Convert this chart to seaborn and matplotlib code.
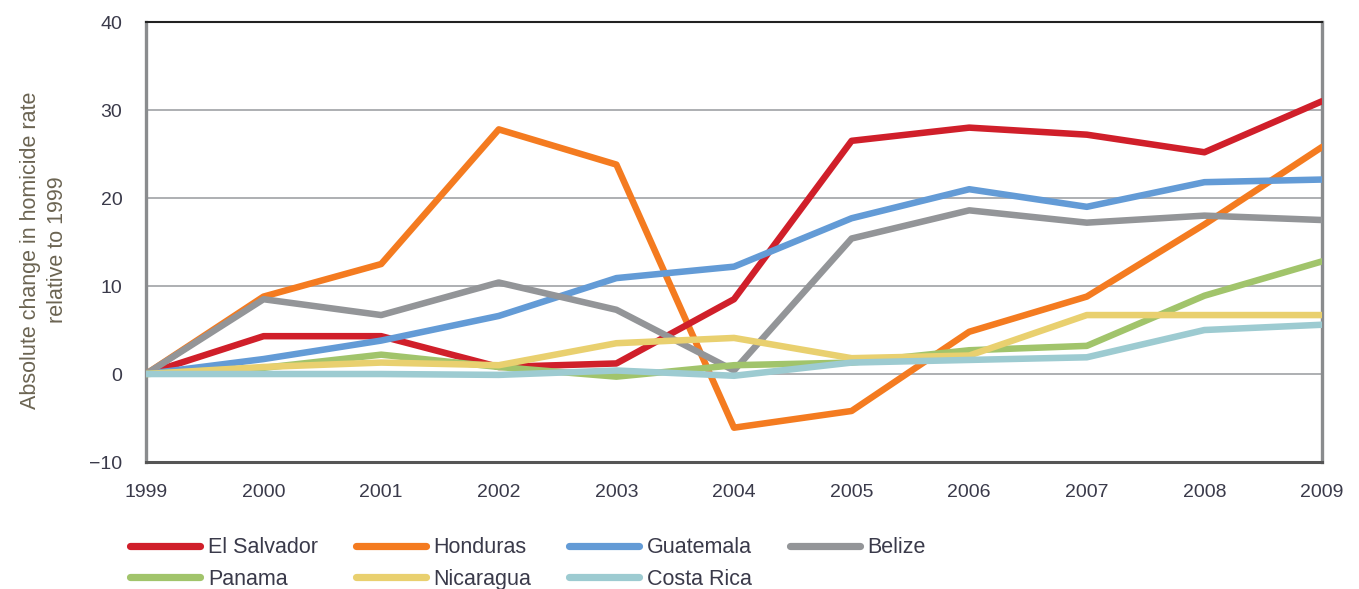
import pandas as pd
import seaborn as sns
import matplotlib.pyplot as plt
from matplotlib.lines import Line2D

# --- DATA ---
years = [1999, 2000, 2001, 2002, 2003, 2004, 2005, 2006, 2007, 2008, 2009]
el_salvador = [0, 4.3, 4.3, 0.8, 1.2, 8.5, 26.5, 28.0, 27.2, 25.2, 31.0]
honduras = [0, 8.8, 12.5, 27.8, 23.8, -6.1, -4.2, 4.8, 8.8, 17.0, 25.8]
guatemala = [0, 1.7, 3.8, 6.6, 10.9, 12.2, 17.7, 21.0, 19.0, 21.8, 22.1]
belize = [0, 8.5, 6.7, 10.4, 7.3, 0.4, 15.4, 18.6, 17.2, 18.0, 17.5]
panama = [0, 0.7, 2.2, 0.8, -0.3, 1.0, 1.3, 2.7, 3.2, 8.9, 12.8]
nicaragua = [0, 0.8, 1.3, 1.0, 3.5, 4.1, 1.8, 2.1, 6.7, 6.7, 6.7]
costa_rica = [0, 0, 0, -0.1, 0.4, -0.2, 1.3, 1.6, 1.9, 5.0, 5.6]

countries = ["El Salvador", "Honduras", "Guatemala", "Belize",
             "Panama", "Nicaragua", "Costa Rica"]
series = [el_salvador, honduras, guatemala, belize, panama, nicaragua, costa_rica]
colors = ["#d01f2a", "#f47b20", "#639bd6", "#939598",
          "#a1c46b", "#e9d06f", "#9dcbd1"]
palette = dict(zip(countries, colors))

rows = []
for name, vals in zip(countries, series):
    for y, v in zip(years, vals):
        rows.append({"year": y, "country": name, "value": v})
df = pd.DataFrame(rows)

# --- PLOT ---
sns.set_style("white")
plt.rcParams['font.family'] = ['Liberation Sans', 'DejaVu Sans']

fig = plt.figure(figsize=(13.59, 5.89), dpi=100)
ax = fig.add_axes([0.1074, 0.2156, 0.8654, 0.747])

# drawing order so the lower series sit on top as in the reference
draw_order = ["Honduras", "El Salvador", "Guatemala", "Belize",
              "Panama", "Nicaragua", "Costa Rica"]
sns.lineplot(data=df, x="year", y="value", hue="country",
             hue_order=draw_order, palette=palette, linewidth=4.7,
             legend=False, ax=ax, zorder=3)

ax.set_xlim(1999, 2009)
ax.set_ylim(-10, 40)
ax.set_xticks(years)
ax.set_yticks([-10, 0, 10, 20, 30, 40])
ax.set_yticklabels(["\u221210", "0", "10", "20", "30", "40"])
ax.grid(axis="y", color="#a7a9ac", linewidth=1.3, zorder=0)
ax.grid(axis="x", visible=False)

for side in ["left", "right"]:
    ax.spines[side].set_color("#8a8c8e")
    ax.spines[side].set_linewidth(2.4)
ax.spines["bottom"].set_color("#555555")
ax.spines["bottom"].set_linewidth(2.2)
ax.spines["top"].set_color("#222222")
ax.spines["top"].set_linewidth(1.5)

ax.tick_params(axis="both", direction="out", length=8, width=1.4,
               color="#222222", labelsize=14, labelcolor="#3a3a4a")
ax.tick_params(axis="y", pad=9)
ax.tick_params(axis="x", pad=8)
ax.set_xlabel("")
ax.set_ylabel("Absolute change in homicide rate\nrelative to 1999",
              fontsize=15.5, color="#6b6452", linespacing=1.4)
ax.yaxis.set_label_coords(-0.066, 0.482)

# legend: row-major order (El Salvador, Honduras, Guatemala, Belize / Panama, ...)
leg_order = ["El Salvador", "Panama", "Honduras", "Nicaragua",
             "Guatemala", "Costa Rica", "Belize"]
handles = [Line2D([0], [0], color=palette[c], linewidth=5.2) for c in leg_order]
fig.legend(handles, leg_order, ncol=4, loc="upper left",
           bbox_to_anchor=(0.0957, 0.0875), frameon=False, fontsize=15.5,
           borderpad=0, borderaxespad=0,
           handlelength=3.25, handletextpad=0.37, columnspacing=1.75,
           labelspacing=0.48, labelcolor="#3a3a4a")

fig.savefig("out.png", dpi=100)
